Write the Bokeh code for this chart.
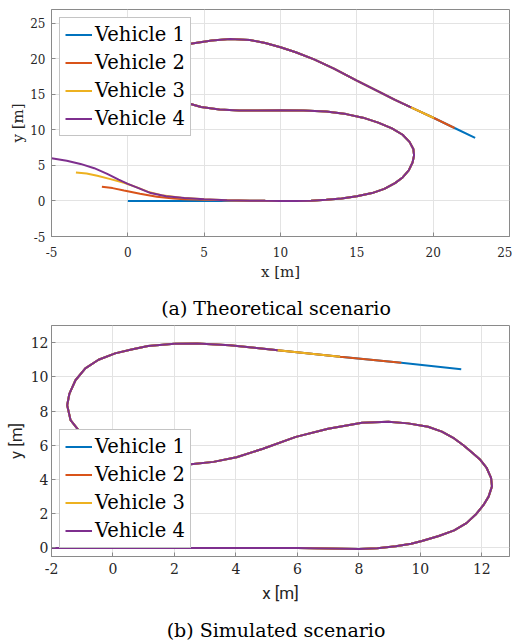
from bokeh.plotting import figure
from bokeh.models import Range1d, Legend, LegendItem, FixedTicker
from bokeh.core.properties import value
from bokeh.layouts import column
from bokeh.embed import file_html
from bokeh.resources import INLINE

# ---------------- data: (a) theoretical scenario ----------------
VEHICLES = ["Vehicle 1", "Vehicle 2", "Vehicle 3", "Vehicle 4"]
COLORS = ["#0072BD", "#D95319", "#EDB120", "#7E2F8E"]

a_head_x = [
    [0.0, 2.0, 4.0, 6.0, 7.0],
    [-1.7, -1.0, -0.25, 0.8, 1.9, 3.0, 3.7, 5.0, 6.5],
    [-3.4, -2.7, -2.0, -1.2, -0.25, 0.6, 1.3, 2.2, 3.5, 5.0, 6.5],
    [-5.0, -4.0, -3.1, -2.2, -1.35, -0.6, 0.0, 0.7, 1.5, 2.5, 3.7, 5.0, 6.5],
]
a_head_y = [
    [0.0, 0.0, 0.0, 0.0, 0.02],
    [2.0, 1.8, 1.45, 1.0, 0.6, 0.35, 0.25, 0.16, 0.08],
    [4.0, 3.85, 3.55, 3.1, 2.55, 1.9, 1.3, 0.8, 0.45, 0.22, 0.1],
    [6.0, 5.65, 5.2, 4.6, 3.8, 3.0, 2.4, 1.8, 1.1, 0.65, 0.4, 0.22, 0.1],
]
a_track_x = [8.0, 9.0, 10.0, 11.0, 12.0, 13.0, 14.0, 15.0, 16.0, 16.8, 17.5, 18.0,
             18.4, 18.65, 18.75, 18.7, 18.45, 18.0, 17.3, 16.4, 15.4, 14.3, 13.0,
             11.5, 10.0, 8.5, 7.3, 6.0, 4.8, 4.0, 3.0, 1.8, 0.9, 0.5, 0.8, 1.7,
             2.9, 4.1, 5.5, 6.7, 8.0, 9.0, 10.0, 11.0, 12.2, 13.5, 15.0, 16.5,
             17.5, 18.55]
a_track_y = [0.03, 0.01, 0.0, 0.0, 0.04, 0.15, 0.35, 0.65, 1.1, 1.7, 2.5, 3.3,
             4.3, 5.4, 6.4, 7.3, 8.3, 9.3, 10.2, 11.0, 11.7, 12.2, 12.55,
             12.7, 12.75, 12.7, 12.7, 12.85, 13.2, 13.7, 14.4, 15.4, 16.6, 18.0,
             19.5, 20.7, 21.6, 22.1, 22.55, 22.75, 22.6, 22.2, 21.6, 20.9, 19.9,
             18.6, 16.9, 15.3, 14.2, 13.15]
a_tail_x = [20.05, 21.4, 22.75]
a_tail_y = [11.65, 10.25, 8.85]

# ---------------- data: (b) simulated scenario ----------------
b_track_x = [-2.0, 0.0, 2.0, 4.0, 6.0, 7.0, 8.0, 8.6, 9.2, 9.7, 10.05, 10.6,
             11.1, 11.5, 11.8, 12.05, 12.22, 12.33, 12.3, 12.15, 11.95, 11.7,
             11.4, 11.1, 10.7, 10.25, 9.6, 8.96, 8.1, 7.0, 5.95, 4.88, 4.02,
             3.27, 2.53, 1.5, 0.5, -0.3, -0.8, -1.16, -1.38, -1.49, -1.42,
             -1.22, -0.9, -0.47, 0.07, 0.6, 1.14, 2.0, 2.74, 3.8, 4.6, 5.36]
b_track_y = [0.0, 0.0, 0.0, 0.0, 0.0, -0.03, -0.06, -0.02, 0.1, 0.25, 0.41, 0.7,
             1.03, 1.45, 1.95, 2.5, 3.0, 3.6, 4.1, 4.7, 5.15, 5.55,
             6.0, 6.4, 6.8, 7.08, 7.28, 7.37, 7.32, 6.97, 6.49, 5.8, 5.3,
             5.03, 4.89, 4.85, 4.95, 5.3, 5.95, 6.98, 7.47, 8.34, 9.0,
             9.8, 10.49, 11.0, 11.37, 11.6, 11.8, 11.93, 11.95, 11.85, 11.7, 11.56]
b_tail_x = [7.39, 9.38, 11.33]
b_tail_y = [11.17, 10.82, 10.45]

A_XTICKS = [-5, 0, 5, 10, 15, 20, 25]
A_YTICKS = [-5, 0, 5, 10, 15, 20, 25]
B_XTICKS = [-2, 0, 2, 4, 6, 8, 10, 12]
B_YTICKS = [0, 2, 4, 6, 8, 10, 12]
CAPTIONS = ["(a) Theoretical scenario", "(b) Simulated scenario"]

SERIF = "DejaVu Serif"
SANS = "Roboto"
AXIS_GRAY = "#8a8a8a"
TEXT = "#262626"
W = 512


def style(p, xticks, yticks, tick_size, label_font, label_size):
    p.outline_line_color = AXIS_GRAY
    p.outline_line_width = 1
    p.xaxis.ticker = FixedTicker(ticks=xticks)
    p.yaxis.ticker = FixedTicker(ticks=yticks)
    for ax, ticks in ((p.xaxis[0], xticks), (p.yaxis[0], yticks)):
        ax.major_label_overrides = {t: str(t) for t in ticks}
        ax.axis_line_color = AXIS_GRAY
        ax.major_tick_line_color = AXIS_GRAY
        ax.major_tick_in = 4
        ax.major_tick_out = 0
        ax.minor_tick_line_color = None
        ax.major_label_text_font = SERIF
        ax.major_label_text_font_size = tick_size
        ax.major_label_text_color = TEXT
        ax.axis_label_text_font = label_font
        ax.axis_label_text_font_size = label_size
        ax.axis_label_text_font_style = "normal"
        ax.axis_label_text_color = TEXT
    p.grid.grid_line_color = "#e3e3e3"
    p.grid.grid_line_width = 1
    p.background_fill_color = "white"
    p.border_fill_color = "white"


def make_legend(p, renderers):
    items = [LegendItem(label=v, renderers=[r]) for v, r in zip(VEHICLES, renderers)]
    leg = Legend(items=items)
    leg.label_text_font = SERIF
    leg.label_text_font_size = "19.5px"
    leg.label_text_color = "black"
    leg.glyph_width = 27
    leg.glyph_height = 23
    leg.label_height = 23
    leg.label_standoff = 3
    leg.spacing = 5
    leg.padding = 5
    leg.margin = 8
    leg.border_line_color = AXIS_GRAY
    leg.border_line_width = 1
    leg.background_fill_color = "white"
    leg.background_fill_alpha = 1.0
    p.add_layout(leg, "center")
    return leg


def caption_fig(text, h, y_from_bottom):
    c = figure(width=W, height=h, output_backend="svg", toolbar_location=None,
               x_range=Range1d(0, W), y_range=Range1d(0, h),
               min_border=0, x_axis_type=None, y_axis_type=None)
    c.outline_line_color = None
    c.grid.visible = False
    c.text(x=[251], y=[y_from_bottom], text=[text],
           text_font=value(SERIF), text_font_size="19px", text_color="black",
           text_align="center", text_baseline="middle")
    return c


# ---------------- figure (a) ----------------
pa = figure(width=W, height=284, output_backend="svg", toolbar_location=None,
            x_range=Range1d(-5, 25), y_range=Range1d(-5, 26.9),
            min_border_left=51, min_border_right=3, min_border_top=9,
            min_border_bottom=48)
pa.xaxis.axis_label = "x [m]"
pa.yaxis.axis_label = "y [m]"
style(pa, A_XTICKS, A_YTICKS, "12px", SERIF, "15px")
pa.xaxis.major_label_standoff = 10
pa.xaxis.axis_label_standoff = 3
pa.yaxis.major_label_standoff = 6
pa.yaxis.axis_label_standoff = 0

rs = []
for i in range(4):
    n_tail = 3 - i
    xs = a_head_x[i] + a_track_x + a_tail_x[:n_tail]
    ys = a_head_y[i] + a_track_y + a_tail_y[:n_tail]
    rs.append(pa.line(xs, ys, line_color=COLORS[i], line_width=2))
la = make_legend(pa, rs)
la.location = "top_left"

ca = caption_fig(CAPTIONS[0], 36, 13)

# ---------------- figure (b) ----------------
pb = figure(width=W, height=285, output_backend="svg", toolbar_location=None,
            x_range=Range1d(-2, 12.9), y_range=Range1d(-0.5, 13),
            min_border_left=49, min_border_right=0, min_border_top=5,
            min_border_bottom=49)
pb.xaxis.axis_label = "x [m]"
pb.yaxis.axis_label = "y [m]"
style(pb, B_XTICKS, B_YTICKS, "14px", SANS, "17px")
pb.xaxis.major_label_standoff = 6
pb.xaxis.axis_label_standoff = 6
pb.yaxis.major_label_standoff = 3
pb.yaxis.axis_label_standoff = 2

rs = []
for i in range(4):
    n_tail = 3 - i
    xs = b_track_x + b_tail_x[:n_tail]
    ys = b_track_y + b_tail_y[:n_tail]
    rs.append(pb.line(xs, ys, line_color=COLORS[i], line_width=2))
lb = make_legend(pb, rs)
lb.location = "bottom_left"

cb = caption_fig(CAPTIONS[1], 36, 12)

layout = column(pa, ca, pb, cb, spacing=0)
open("out.html", "w").write(file_html(layout, INLINE))
